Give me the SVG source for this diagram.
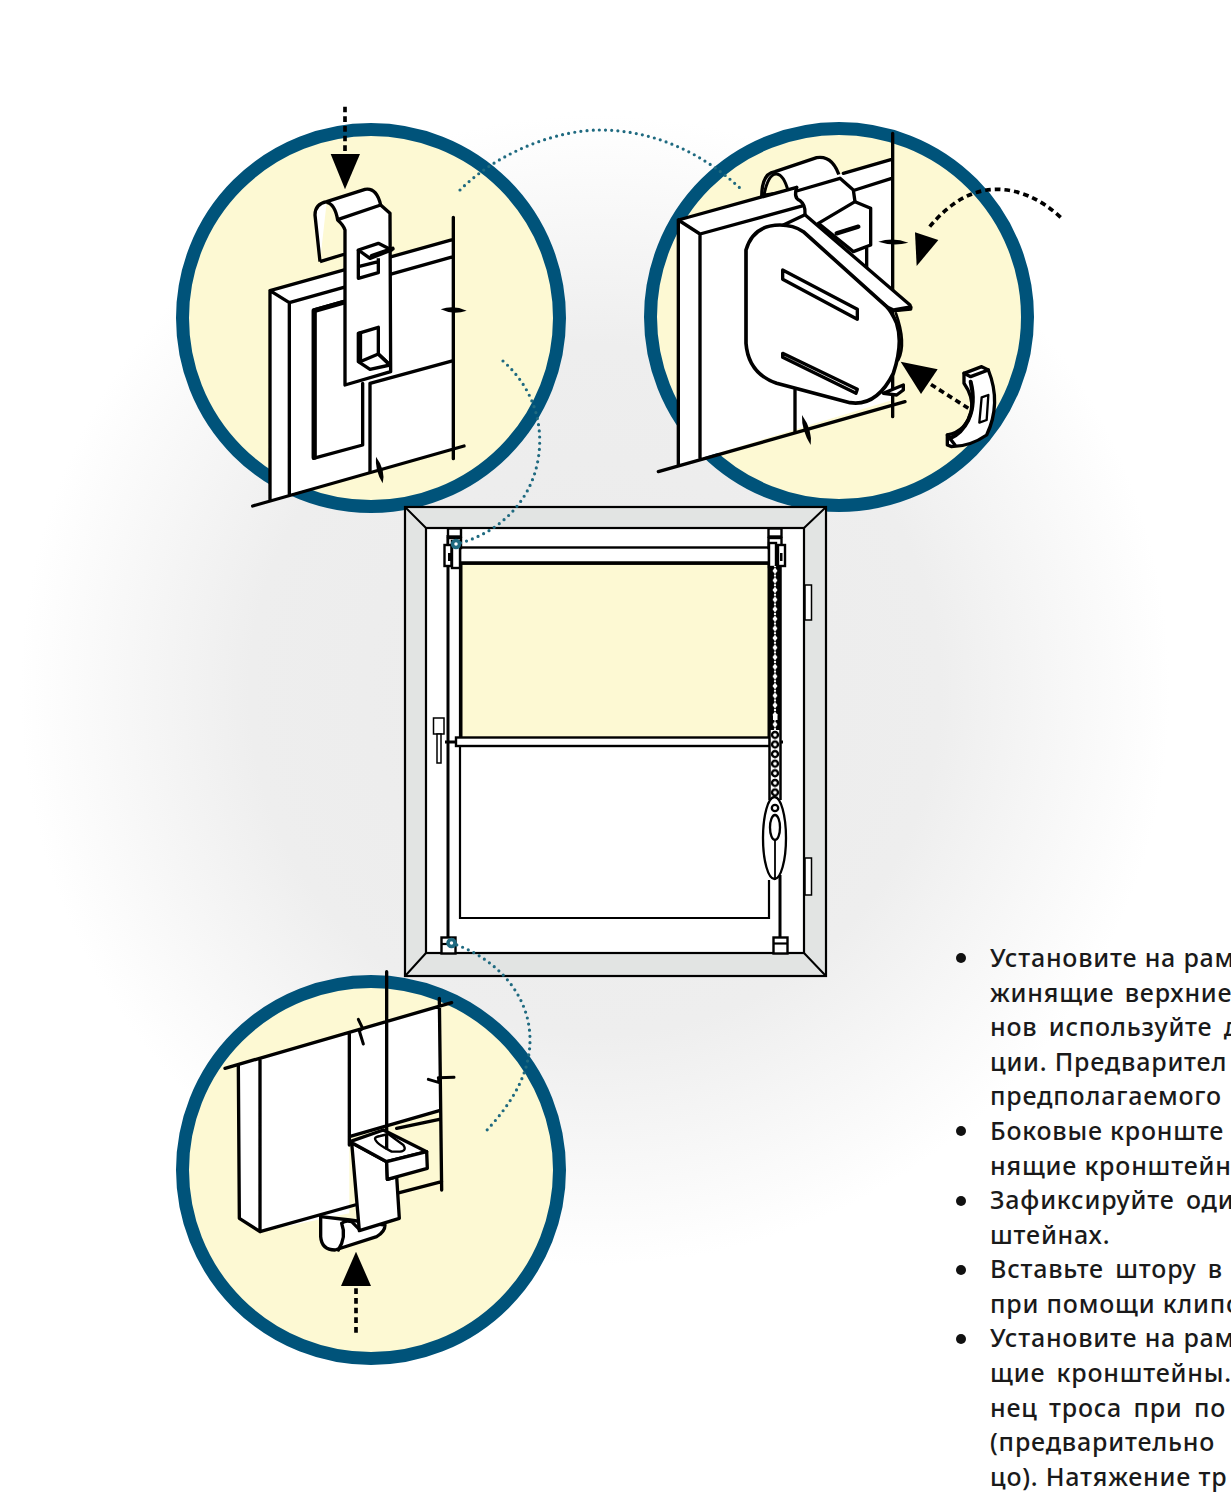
<svg xmlns="http://www.w3.org/2000/svg" width="1231" height="1500" viewBox="0 0 1231 1500">
<style>
.ring{fill:#fdf9d3;stroke:#00537a;stroke-width:13}
.l{fill:none;stroke:#000;stroke-width:10;stroke-linejoin:round;stroke-linecap:round}
.w{fill:#fff;stroke:#000;stroke-width:10;stroke-linejoin:round}
.t{fill:#fff;stroke:#000;stroke-width:11;stroke-linejoin:round}
.k{fill:#000;stroke:none}
.da{fill:none;stroke:#000;stroke-width:11;stroke-dasharray:17 12}
.dot{fill:none;stroke:#1f6a80;stroke-width:3.200;stroke-linecap:round;stroke-dasharray:0 6.200}
.m{fill:#fff;stroke:#000;stroke-width:2.400}
.h{fill:#fff;stroke:#000;stroke-width:1.500}
.b{fill:none;stroke:#000;stroke-width:3}
.pin{fill:#fff;stroke:#1f6a80;stroke-width:3.500}
text{font-family:"Noto Sans","Open Sans",sans-serif;font-size:25px;font-weight:500;fill:#1a1a1a;letter-spacing:.8px}
</style>
<defs>
<radialGradient id="bg" cx="595" cy="690" r="575" gradientUnits="userSpaceOnUse">
<stop offset="0" stop-color="#ebebeb"/><stop offset=".6" stop-color="#eeeeee"/><stop offset="1" stop-color="#fff"/>
</radialGradient>
<pattern id="beads" x="770" y="730" width="10" height="9.600" patternUnits="userSpaceOnUse">
<rect width="10" height="9.600" fill="#fff"/>
<circle cx="5" cy="4.800" r="3" fill="#fff" stroke="#000" stroke-width="2.400"/>
</pattern>
<pattern id="links" x="769" y="566" width="12" height="9.600" patternUnits="userSpaceOnUse">
<rect width="12" height="9.600" fill="#000"/>
<path d="M6,1.400L8.500,4.800L6,8.200L3.500,4.800Z" fill="#fff"/>
<circle cx="6" cy="0" r="1.200" fill="#fff"/>
<circle cx="6" cy="9.600" r="1.200" fill="#fff"/>
</pattern>
</defs>
<rect width="1231" height="1500" fill="#fff"/>
<rect width="1231" height="1500" fill="url(#bg)"/>

<g id="detail-top-left">
<circle class="ring" cx="371" cy="318" r="188.500"/>
<g transform="translate(170,100) scale(.33333)">
<path d="M300,572L850,418V1045L300,1200Z" fill="#fff"/>
<path class="l" d="M300,572L358,608V1185M358,608L850,470M850,352V1076M248,1218L882,1038M300,572V1200M300,572L850,418"/>
<path class="l" d="M520,605L430,630V1075L578,1035V850"/>
<path class="l" style="stroke-width:15" d="M520,607L433,632V1072"/>
<path class="l" d="M850,782L600,850V1115"/>
<path class="w" d="M450,485L435,345Q435,312 470,305L585,268Q620,262 632,315L660,340L662,815L525,855V390Q520,375 503,360Q495,312 470,307M450,485L525,462"/>
<path class="l" d="M505,358L632,315"/>
<path class="w" d="M565,450V535L625,518V475M565,500L625,485"/>
<path class="w" d="M565,450L625,430L665,450L600,475Z"/>
<path class="l" style="stroke-width:12" d="M605,468L668,446"/>
<path class="w" d="M565,700L625,682V762L660,795L600,808L565,785Z"/>
<path class="l" style="stroke-width:13" d="M570,700V785"/>
<path class="l" d="M570,785L625,762L660,795"/>
<path class="k" d="M812,628Q850,614 890,632Q850,646 812,628Z"/>
<path class="k" d="M618,1070Q648,1110 638,1150Q614,1110 618,1070Z"/>
<path class="da" d="M525,20V165"/>
<path class="k" d="M482,162H570L525,268Z"/>
</g>
</g>

<g id="detail-top-right">
<circle class="ring" cx="839" cy="317" r="188.500"/>
<g transform="translate(640,110) scale(.33333)">
<path class="w" d="M365,262Q365,190 405,185L530,143Q580,135 600,205L400,270Z"/>
<path class="w" d="M372,255Q385,190 410,192Q432,195 445,245Z" style="fill:#fdf9d3;stroke-width:9"/>
<path d="M115,330L758,148V530L700,700L758,790V870L115,1065Z" fill="#fff"/>
<path class="l" d="M115,330L470,232M610,190L755,148M180,372L490,287M645,240L755,205M115,330L180,372V1045M115,330V1065M758,70V920M55,1085L795,875"/>
<path class="l" d="M470,232Q460,265 480,272Q497,285 495,312M600,205L640,240L645,275M470,243L600,205"/>
<path class="w" d="M535,340L645,275L692,295V405L640,425Z"/>
<path class="l" style="stroke-width:13" d="M590,370L655,350"/>
<path class="l" d="M680,415V480M465,840V965"/>
<path class="w" d="M430,345L495,314L810,585L812,597L765,602L740,590Z"/>
<path class="l" style="stroke-width:12" d="M765,600L812,592"/>
<path class="w" d="M730,850L790,825V840L770,855Z"/>
<path class="t" d="M420,345Q340,345 318,420V700Q325,790 410,820L630,878Q710,890 760,790Q790,700 770,640Q755,605 740,590L490,365Q460,345 420,345Z"/>
<path class="l" style="stroke-width:8" d="M768,610Q800,700 775,750"/>
<path class="w" d="M428,480L652,598V628L428,508Z"/>
<path class="w" d="M428,730L652,838L648,850L428,742Z"/>
<path class="k" d="M715,395Q760,381 805,398Q760,410 715,395Z"/>
<path class="k" d="M486,915Q518,960 512,1005Q484,960 486,915Z"/>
<path class="da" d="M1262,322Q1170,238 1070,238Q960,238 865,355"/>
<path class="k" d="M825,367L895,390L830,468Z"/>
<path class="da" d="M985,895L860,815"/>
<path class="k" d="M782,755L893,778L843,852Z"/>
<path class="w" d="M972,790L1025,770L1045,780Q1085,880 1040,975Q990,1010 935,1010L922,1005V975Q980,965 995,900Q1000,860 972,820Z"/>
<path class="w" d="M1025,862L1045,855L1040,930L1018,938Z" style="stroke-width:7"/>
<path class="l" style="stroke-width:12" d="M992,815Q1008,880 985,930Q965,970 930,985"/>
<path class="l" d="M972,790L992,800L1045,780M922,975L945,1005"/>
</g>
</g>

<g id="detail-bottom-left">
<circle class="ring" cx="371" cy="1170" r="188.500"/>
<g transform="translate(170,960) scale(.33333)">
<path d="M205,314L808,139V455L538,530V760L270,815L208,775Z" fill="#fff"/>
<path class="l" d="M165,325L845,128M205,316L208,775L270,815V298M270,815L555,735M538,222V555M650,35V520M808,115L815,690M538,530L808,452M680,505L808,478M680,700L815,665"/>
<path class="w" d="M452,770V830Q455,870 495,870L620,830Q645,815 645,795L540,780Z"/>
<path class="l" d="M515,790Q530,830 505,870M515,790Q525,780 545,785L568,808"/>
<path class="w" d="M545,548L650,605L652,658L680,650L688,775L568,812Z"/>
<path class="w" d="M540,545L640,510L770,575L650,605Z"/>
<path class="w" d="M650,605L770,575L772,625L652,658Z"/>
<path class="w" style="stroke-width:7" d="M630,528L655,522L700,555Q712,572 690,575L665,575Q615,550 615,535Q617,530 630,528Z"/>
<path class="l" d="M650,525V565"/>
<path class="l" style="stroke-width:9" d="M565,178L578,205L568,213L580,252"/>
<path class="l" style="stroke-width:9" d="M775,358L808,368L805,353L852,352"/>
<path class="da" d="M558,985V1118"/>
<path class="k" d="M513,978H603L558,875Z"/>
</g>
</g>

<g id="window">
<rect x="405" y="507" width="421" height="469" fill="#e2e4e3" stroke="#000" stroke-width="2.200"/>
<rect x="426" y="528" width="378" height="425" fill="#fff" stroke="#000" stroke-width="2.200"/>
<path class="b" style="stroke-width:2" d="M406,508L426,528M825,508L804,528M406,975L426,953M825,975L804,953"/>
<rect class="h" x="805" y="585" width="6.500" height="35"/>
<rect class="h" x="805" y="858" width="6.500" height="37"/>
<rect class="h" x="433.500" y="718" width="10.500" height="16"/>
<rect class="h" x="437" y="734" width="4" height="29"/>
<path class="b" style="stroke-width:2.200" d="M460,562V918H769V880"/>
<rect x="461" y="563" width="308" height="175" fill="#fdf9d3"/>
<path class="b" d="M461,563V738M769,563V738"/>
<path class="b" d="M448,535V938M780,875V938"/>
<rect class="m" x="460" y="547.500" width="309" height="16"/>
<path d="M460,563H769" stroke="#000" stroke-width="3.500"/>
<rect class="m" x="456" y="737.500" width="314" height="8.500"/>
<path class="b" d="M445,742H457M770,742H783"/>
<rect class="m" x="448" y="528.500" width="13" height="8"/>
<rect class="m" x="448" y="538" width="13" height="10"/>
<rect class="m" x="444.500" y="545" width="7" height="21"/>
<rect x="448" y="553" width="3" height="8" fill="#000"/>
<rect class="m" x="452" y="541" width="8" height="27"/>
<rect class="m" x="768.500" y="528.500" width="13" height="8"/>
<rect class="m" x="768.500" y="538" width="13" height="10"/>
<rect class="m" x="769" y="543" width="7" height="24"/>
<rect class="m" x="778" y="545" width="7" height="21"/>
<rect x="780" y="553" width="2.500" height="8" fill="#000"/>
<rect x="769" y="566" width="12" height="164" fill="url(#links)"/>
<rect x="770" y="730" width="10" height="72" fill="url(#beads)"/>
<path d="M769.500,566V800M780.500,566V800" stroke="#000" stroke-width="2.500" fill="none"/>
<rect x="773" y="714" width="4.500" height="6" fill="#fff"/>
<ellipse cx="774.500" cy="838" rx="11.500" ry="41" fill="#fff" stroke="#000" stroke-width="2.300"/>
<circle cx="775" cy="808" r="3.200" fill="#fff" stroke="#000" stroke-width="2.300"/>
<ellipse cx="775" cy="827.500" rx="5" ry="12.500" fill="#fff" stroke="#000" stroke-width="2.300"/>
<path class="b" style="stroke-width:1.800" d="M775,840V880"/>
<rect class="m" x="441.500" y="937.500" width="14" height="16"/>
<path d="M441.500,944H455" stroke="#000" stroke-width="2.200"/>
<rect class="m" x="773.500" y="937.500" width="14" height="16"/>
<path d="M773.500,943.500H787" stroke="#000" stroke-width="2.200"/>
</g>

<g id="connectors">
<path class="dot" d="M460,190C500,150 560,130 600,130C650,130 700,150 742,190"/>
<path class="dot" d="M503,361C530,385 545,420 538,460C530,505 495,535 456,544"/>
<path class="dot" d="M451,943C490,955 530,990 530,1040C530,1075 510,1105 487,1130"/>
<circle class="pin" cx="456" cy="544" r="3.500"/>
<circle class="pin" cx="451.500" cy="943" r="3.500"/>
</g>

<g id="instructions">
<circle cx="961" cy="958" r="5" fill="#111"/>
<circle cx="961" cy="1131" r="5" fill="#111"/>
<circle cx="961" cy="1201" r="5" fill="#111"/>
<circle cx="961" cy="1270" r="5" fill="#111"/>
<circle cx="961" cy="1339" r="5" fill="#111"/>
<text x="990" y="967">Установите на рам</text>
<text x="990" y="1002" word-spacing="3">жинящие верхние</text>
<text x="990" y="1036" word-spacing="4">нов используйте д</text>
<text x="990" y="1071">ции. Предварител</text>
<text x="990" y="1105">предполагаемого</text>
<text x="990" y="1140">Боковые кронште</text>
<text x="990" y="1175">нящие кронштейн</text>
<text x="990" y="1209" word-spacing="4">Зафиксируйте оди</text>
<text x="990" y="1244">штейнах.</text>
<text x="990" y="1278" word-spacing="4">Вставьте штору в</text>
<text x="990" y="1313">при помощи клипо</text>
<text x="990" y="1347">Установите на рам</text>
<text x="990" y="1382" word-spacing="4">щие кронштейны.</text>
<text x="990" y="1417" word-spacing="4">нец троса при по</text>
<text x="990" y="1451">(предварительно</text>
<text x="990" y="1486">цо). Натяжение тр</text>
</g>
</svg>
